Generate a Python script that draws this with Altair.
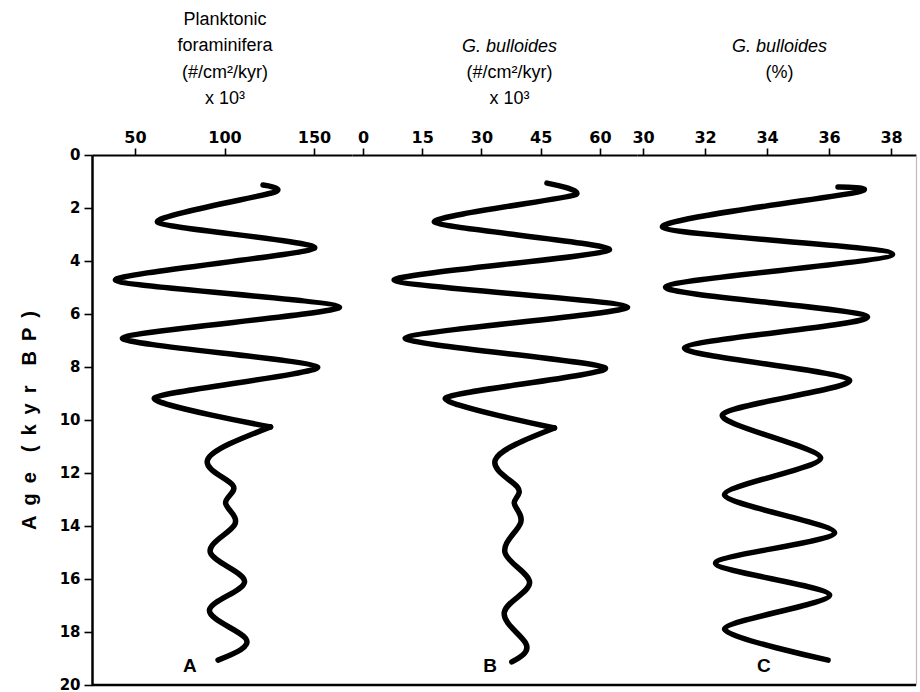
import altair as alt
import pandas as pd

# ---- data ----
age_a = [1.13, 1.40, 2.53, 3.51, 4.72, 5.74, 6.91, 8.00, 9.17, 10.26, 11.51, 12.45, 13.13, 13.96, 15.02, 16.11, 17.17, 18.23, 19.06]
val_a = [121.5, 128.0, 62.6, 150.3, 39.1, 164.2, 43.0, 152.0, 60.9, 125.7, 90.5, 104.5, 100.6, 105.6, 92.2, 111.2, 91.6, 111.7, 96.4]

age_b = [1.06, 1.51, 2.53, 3.58, 4.72, 5.74, 6.91, 8.04, 9.17, 10.30, 11.51, 12.53, 13.13, 13.89, 15.02, 16.15, 17.25, 18.42, 19.13]
val_b = [46.6, 53.6, 18.1, 62.4, 7.9, 67.0, 10.7, 61.4, 20.9, 48.5, 33.5, 39.1, 38.3, 39.9, 36.0, 42.2, 35.8, 41.2, 37.7]

age_c = [1.21, 1.40, 2.72, 3.74, 4.98, 6.11, 7.28, 8.49, 9.81, 11.43, 12.83, 14.26, 15.40, 16.60, 17.89, 19.06]
val_c = [36.29, 36.92, 30.63, 38.05, 30.73, 37.24, 31.34, 36.66, 32.56, 35.73, 32.63, 36.18, 32.34, 36.02, 32.63, 35.97]

# index where the sharp zig-zag part ends and the smoother lower part begins
# (None: the whole curve is drawn in one piece)
split_a, split_b, split_c = 9, 9, None

ticks_a = [50, 100, 150]
ticks_b = [0, 15, 30, 45, 60]
ticks_c = [30, 32, 34, 36, 38]
age_ticks = [0, 2, 4, 6, 8, 10, 12, 14, 16, 18, 20]

labels = ["A", "B", "C"]
label_val = [80.7, 32.2, 33.9]
label_age = [19.3, 19.3, 19.3]

FONT = "Liberation Sans"
TICKFONT = "DejaVu Sans"
H = 530


def panel(ages, vals, split, tension, domain, ticks, width, label, lval, lage, yaxis, title):
    n = len(ages)
    cut = n - 1 if split is None else split
    up = pd.DataFrame({"age": ages[:cut + 1], "value": vals[:cut + 1], "idx": list(range(cut + 1))})
    xs = alt.Scale(domain=domain, nice=False, zero=False)
    ys = alt.Scale(domain=[0, 20], reverse=True, nice=False, zero=False)
    xaxis = alt.Axis(orient="top", values=ticks, title=None, grid=False,
                     domainColor="black", domainWidth=2, tickColor="black",
                     tickWidth=1.6, tickSize=7, labelFont=TICKFONT, labelFontSize=16,
                     labelFontWeight="bold", labelColor="black", labelPadding=3)
    x = alt.X("value:Q", scale=xs, axis=xaxis)
    y = alt.Y("age:Q", scale=ys, axis=yaxis)
    style = dict(color="black", strokeWidth=5.5, strokeCap="round", strokeJoin="round")
    layers = [alt.Chart(up).mark_line(interpolate="cardinal", tension=tension, **style).encode(
        x=x, y=y, order="idx:Q")]
    if split is not None:
        lo = pd.DataFrame({"age": ages[split:], "value": vals[split:], "idx": list(range(split, n))})
        layers.append(alt.Chart(lo).mark_line(interpolate="natural", **style).encode(
            x=x, y=y, order="idx:Q"))
    layers.append(alt.Chart(pd.DataFrame({"age": [20]})).mark_rule(
        color="black", strokeWidth=2.5).encode(y=y))
    layers.append(alt.Chart(pd.DataFrame({"value": [lval], "age": [lage], "label": [label]})).mark_text(
        font=FONT, fontSize=19, fontWeight="bold", color="black"
    ).encode(x=x, y=y, text="label:N"))
    return alt.layer(*layers).properties(width=width, height=H, title=title)


yaxis_a = alt.Axis(values=age_ticks, title="A\u2002g\u2002e\u2002\u2002(\u2002k\u2002y\u2002r\u2002\u2002B\u2002P\u2002)",
                   grid=False, domainColor="black", domainWidth=2.5, tickColor="black",
                   tickWidth=1.6, tickSize=8, labelFont=TICKFONT, labelFontSize=15,
                   labelFontWeight="bold", labelColor="black", labelPadding=4, labelOffset=-1,
                   titleFont=FONT, titleFontSize=20, titleFontWeight="bold",
                   titleColor="black", titlePadding=20)
yaxis_c = alt.Axis(orient="right", values=age_ticks, title=None, grid=False, labels=False,
                   ticks=False, domainColor="#bbbbbb", domainWidth=1.2)

TS = 18
title_a = alt.TitleParams(
    text=["Planktonic", "foraminifera", "(#/cm²/kyr)", "x 10³"],
    anchor="middle", frame="group", orient="top", offset=21, dx=3,
    font=FONT, fontSize=TS, fontWeight="normal", color="black", lineHeight=26.5)
title_b = alt.TitleParams(
    text="G. bulloides", subtitle=["(#/cm²/kyr)", "x 10³"],
    anchor="middle", frame="group", orient="top", offset=21, dx=15,
    font=FONT, fontSize=TS, fontWeight="normal", fontStyle="italic", color="black", lineHeight=26.5,
    subtitleFont=FONT, subtitleFontSize=TS, subtitleColor="black", subtitleLineHeight=26.5,
    subtitlePadding=8)
title_c = alt.TitleParams(
    text="G. bulloides", subtitle=["(%)"],
    anchor="middle", frame="group", orient="top", offset=47, dx=3,
    font=FONT, fontSize=TS, fontWeight="normal", fontStyle="italic", color="black", lineHeight=26.5,
    subtitleFont=FONT, subtitleFontSize=TS, subtitleColor="black", subtitleLineHeight=26.5,
    subtitlePadding=8)

pa = panel(age_a, val_a, split_a, 0.35, [26.0, 171.2], ticks_a, 260, labels[0], label_val[0], label_age[0], yaxis_a, title_a)
pb = panel(age_b, val_b, split_b, 0.35, [-2.78, 69.4], ticks_b, 285, labels[1], label_val[1], label_age[1], None, title_b)
pc = panel(age_c, val_c, split_c, 0.22, [29.806, 38.806], ticks_c, 279, labels[2], label_val[2], label_age[2], yaxis_c, title_c)

chart = alt.hconcat(pa, pb, pc, spacing=0, bounds="flush").resolve_scale(
    x="independent", y="independent"
).properties(
    padding={"left": 19, "top": 10, "right": 2, "bottom": 2},
    background="white",
).configure_view(stroke=None)

chart.save("out.html", embed_options={"renderer": "svg", "actions": False})
